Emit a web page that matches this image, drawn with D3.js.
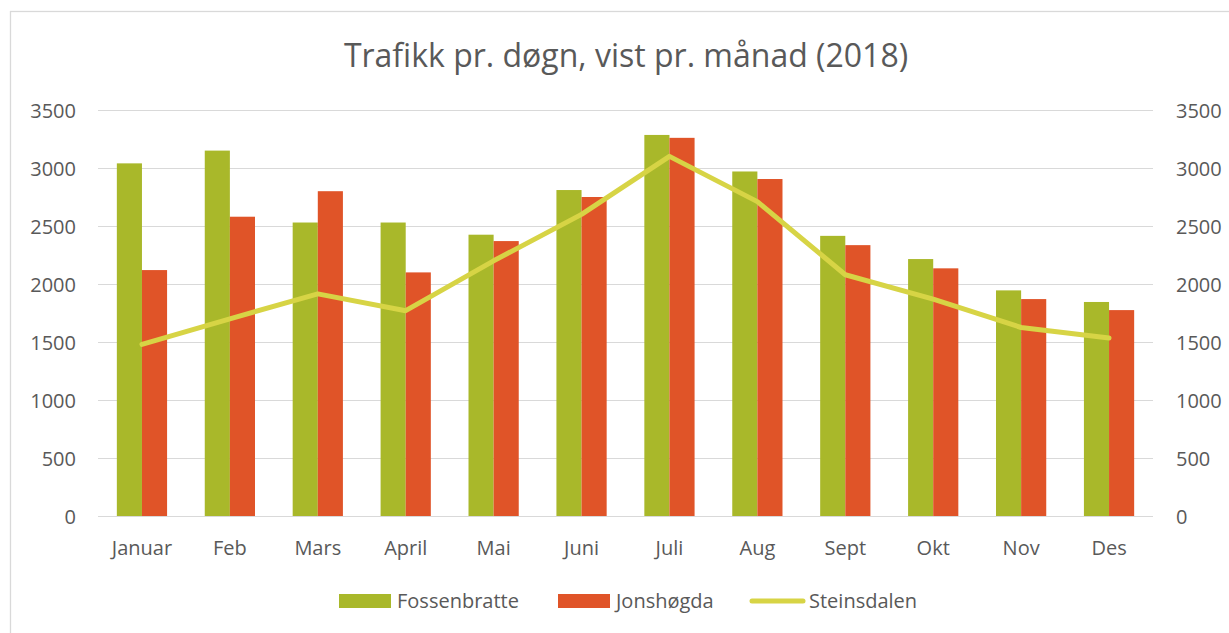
<!DOCTYPE html>
<meta charset="utf-8">
<style>
body { margin: 0; background: #fff; }
text { font-family: "Open Sans", sans-serif; fill: #595959; }
.grid line { stroke: #d9d9d9; stroke-width: 1.6px; shape-rendering: crispEdges; }
.grid path { stroke-width: 0; }
.axis path, .axis line { display: none; }
.axis text { font-size: 20px; fill: #595959; }
.bar-foss { fill: #a9b82a; }
.bar-jons { fill: #e05428; }
.line-stein { fill: none; stroke: #d7d445; stroke-width: 5px; stroke-linejoin: round; stroke-linecap: round; }
</style>
<body>
<script src="https://d3js.org/d3.v7.min.js"></script>
<script>

// data
var months = ["Januar", "Feb", "Mars", "April", "Mai", "Juni", "Juli", "Aug", "Sept", "Okt", "Nov", "Des"];
var fossenbratte = [3040, 3150, 2530, 2530, 2425, 2810, 3285, 2970, 2415, 2215, 1945, 1845];
var jonshogda = [2120, 2580, 2800, 2100, 2370, 2750, 3260, 2905, 2335, 2135, 1870, 1775];
var steinsdalen = [1480, 1700, 1915, 1770, 2200, 2600, 3100, 2710, 2080, 1870, 1625, 1535];
var yTicks = [0, 500, 1000, 1500, 2000, 2500, 3000, 3500];
var seriesNames = ["Fossenbratte", "Jonshøgda", "Steinsdalen"];

var W = 1229, H = 633;
var margin = {top: 110, right: 76, bottom: 117, left: 98},
    width = W - margin.left - margin.right,
    height = H - margin.top - margin.bottom;

var svg = d3.select("body").append("svg")
    .attr("width", W)
    .attr("height", H);

// chart border
svg.append("rect")
    .attr("x", 10.5).attr("y", 11.5)
    .attr("width", W + 20).attr("height", H + 20)
    .attr("fill", "none").attr("stroke", "#d9d9d9").attr("stroke-width", 1.3);

// title
svg.append("text")
    .attr("x", 626).attr("y", 67)
    .attr("text-anchor", "middle")
    .style("font-size", "32px")
    .text("Trafikk pr. døgn, vist pr. månad (2018)");

var g = svg.append("g")
    .attr("transform", "translate(" + margin.left + "," + margin.top + ")");

// scales
var x0 = d3.scaleBand().domain(months).range([0, width]);
var bw = x0.bandwidth();
var side = bw * 1.5 / 3.5 / 2;
var x1 = d3.scaleBand().domain([0, 1]).range([side, bw - side]);
var y = d3.scaleLinear().domain([0, 3500]).range([height, 0]);
var y2 = d3.scaleLinear().domain([0, 3500]).range([height, 0]);
var fmt = d3.format("d");

// grid
g.append("g")
    .attr("class", "grid")
    .call(d3.axisLeft(y).tickValues(yTicks).tickSize(-width).tickFormat(""));

// bars
var rows = months.map(function(m, i) {
    return {month: m, vals: [fossenbratte[i], jonshogda[i]]};
});
var cls = ["bar-foss", "bar-jons"];

g.selectAll(".month")
    .data(rows)
    .enter().append("g")
    .attr("transform", function(d) { return "translate(" + x0(d.month) + ",0)"; })
    .selectAll("rect")
    .data(function(d) { return d.vals; })
    .enter().append("rect")
    .attr("class", function(d, i) { return cls[i]; })
    .attr("x", function(d, i) { return x1(i); })
    .attr("width", x1.bandwidth())
    .attr("y", function(d) { return y(d); })
    .attr("height", function(d) { return height - y(d); });

// line (secondary axis)
var line = d3.line()
    .x(function(d, i) { return x0(months[i]) + bw / 2; })
    .y(function(d) { return y2(d); });

g.append("path")
    .datum(steinsdalen)
    .attr("class", "line-stein")
    .attr("d", line);

// axes
var left = g.append("g")
    .attr("class", "axis")
    .call(d3.axisLeft(y).tickValues(yTicks).tickFormat(fmt).tickSize(0).tickPadding(22));
left.selectAll("text").attr("dy", "0.35em");

var right = g.append("g")
    .attr("class", "axis")
    .attr("transform", "translate(" + width + ",0)")
    .call(d3.axisRight(y2).tickValues(yTicks).tickFormat(fmt).tickSize(0).tickPadding(23));
right.selectAll("text").attr("dy", "0.35em");

var bottom = g.append("g")
    .attr("class", "axis")
    .attr("transform", "translate(0," + height + ")")
    .call(d3.axisBottom(x0).tickSize(0).tickPadding(0));
bottom.selectAll("text").attr("dy", null).attr("y", 39);

// legend
var legend = svg.append("g");
var legendX = [339, 558, 750];
var swatchW = [52, 52, 55];
seriesNames.forEach(function(name, i) {
    var lg = legend.append("g").attr("transform", "translate(" + legendX[i] + ",0)");
    if (i < 2) {
        lg.append("rect")
            .attr("class", cls[i])
            .attr("x", 0).attr("y", 594)
            .attr("width", swatchW[i]).attr("height", 14);
    } else {
        lg.append("line")
            .attr("class", "line-stein")
            .attr("x1", 2).attr("x2", swatchW[i] - 2)
            .attr("y1", 601).attr("y2", 601);
    }
    lg.append("text")
        .attr("x", swatchW[i] + (i < 2 ? 6 : 4)).attr("y", 608)
        .style("font-size", "20px")
        .text(name);
});

</script>
</body>
